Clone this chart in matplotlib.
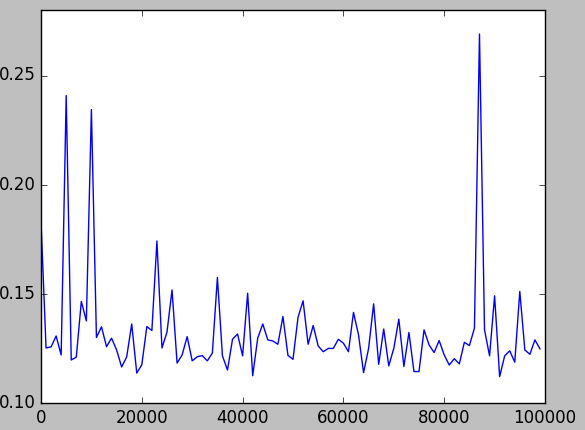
import matplotlib
matplotlib.use("Agg")
import matplotlib.pyplot as plt
import numpy as np

plt.style.use('classic')

steps = np.arange(0, 100000, 1000)
values = [
    0.1835, 0.1252, 0.1257, 0.1307, 0.1220, 0.2408, 0.1197, 0.1210, 0.1465, 0.1376,
    0.2344, 0.1300, 0.1349, 0.1258, 0.1297, 0.1243, 0.1165, 0.1211, 0.1362, 0.1137,
    0.1175, 0.1350, 0.1332, 0.1742, 0.1252, 0.1325, 0.1518, 0.1183, 0.1220, 0.1304,
    0.1193, 0.1212, 0.1217, 0.1193, 0.1229, 0.1575, 0.1216, 0.1151, 0.1292, 0.1316,
    0.1216, 0.1503, 0.1125, 0.1297, 0.1362, 0.1289, 0.1284, 0.1269, 0.1396, 0.1218,
    0.1200, 0.1393, 0.1468, 0.1269, 0.1355, 0.1261, 0.1235, 0.1250, 0.1250, 0.1292,
    0.1274, 0.1235, 0.1415, 0.1312, 0.1139, 0.1250, 0.1454, 0.1177, 0.1339, 0.1170,
    0.1250, 0.1384, 0.1167, 0.1323, 0.1144, 0.1144, 0.1335, 0.1266, 0.1231, 0.1286,
    0.1220, 0.1174, 0.1203, 0.1179, 0.1278, 0.1263, 0.1343, 0.2690, 0.1335, 0.1216,
    0.1491, 0.1121, 0.1216, 0.1239, 0.1187, 0.1511, 0.1243, 0.1223, 0.1289, 0.1248,
]

fig = plt.figure(figsize=(5.85, 4.30), dpi=100)
ax = fig.add_axes([41/585, 27/430, 504/585, 393/430])
ax.plot(steps, values, color='b', linewidth=1.0)
ax.set_xlim(0, 100000)
ax.set_ylim(0.10, 0.28)
ax.set_xticks([0, 20000, 40000, 60000, 80000, 100000])
ax.set_yticks([0.10, 0.15, 0.20, 0.25])
ax.set_yticklabels(['0.10', '0.15', '0.20', '0.25'])
fig.savefig('out.png', dpi=100, facecolor=fig.get_facecolor())
